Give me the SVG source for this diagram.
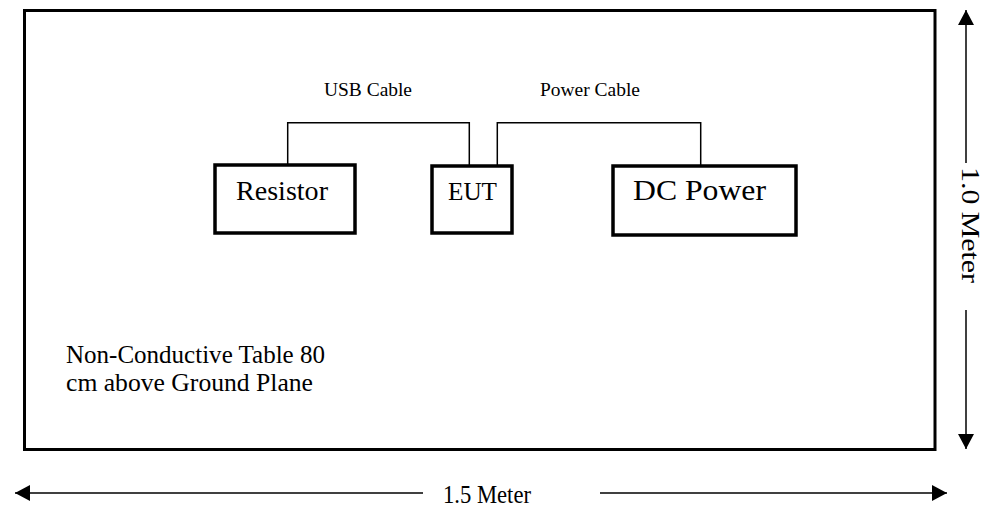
<svg xmlns="http://www.w3.org/2000/svg" width="987" height="515" viewBox="0 0 987 515">
<style>
text{font-family:"Liberation Serif","Times New Roman",serif;fill:#000}
.box{fill:#fff;stroke:#000;stroke-width:3.5}
.frame{fill:none;stroke:#000;stroke-width:3}
.wire{fill:none;stroke:#000;stroke-width:1.5}
.dim{stroke:#000;stroke-width:1.5}
</style>
<defs>
<marker id="ah" viewBox="0 0 15 16" refX="15" refY="8" markerWidth="15" markerHeight="16" markerUnits="userSpaceOnUse" orient="auto">
<path d="M0,0 L15,8 L0,16 Z" fill="#000"/>
</marker>
</defs>
<g id="table">
<rect class="frame" x="24.5" y="10.5" width="910.5" height="439"/>
<text x="66" y="363" font-size="25" textLength="259" lengthAdjust="spacingAndGlyphs">Non-Conductive Table 80</text>
<text x="66" y="391" font-size="25" textLength="247" lengthAdjust="spacingAndGlyphs">cm above Ground Plane</text>
</g>
<g id="resistor">
<rect class="box" x="215" y="165" width="140" height="68"/>
<text x="236" y="200" font-size="27" textLength="92" lengthAdjust="spacingAndGlyphs">Resistor</text>
</g>
<g id="eut">
<rect class="box" x="432" y="166" width="80" height="67"/>
<text x="448" y="200" font-size="26" textLength="49" lengthAdjust="spacingAndGlyphs">EUT</text>
</g>
<g id="dcpower">
<rect class="box" x="613" y="166" width="183" height="69"/>
<text x="633" y="200" font-size="29" textLength="133" lengthAdjust="spacingAndGlyphs">DC Power</text>
</g>
<g id="connectors">
<polyline class="wire" points="287.7,165 287.7,122.7 469.3,122.7 469.3,166"/>
<polyline class="wire" points="497.3,166 497.3,122.7 700.7,122.7 700.7,166"/>
<text x="324" y="96" font-size="19" textLength="88" lengthAdjust="spacingAndGlyphs">USB Cable</text>
<text x="540" y="96" font-size="19" textLength="100" lengthAdjust="spacingAndGlyphs">Power Cable</text>
</g>
<g id="dimensions">
<line class="dim" x1="966" y1="163" x2="966" y2="10" marker-end="url(#ah)"/>
<line class="dim" x1="966" y1="310" x2="966" y2="449" marker-end="url(#ah)"/>
<text transform="translate(962,167) rotate(90)" font-size="25" textLength="116" lengthAdjust="spacingAndGlyphs">1.0 Meter</text>
<line class="dim" x1="423" y1="493" x2="15" y2="493" marker-end="url(#ah)"/>
<line class="dim" x1="600" y1="493" x2="947" y2="493" marker-end="url(#ah)"/>
<text x="443" y="503" font-size="25" textLength="88" lengthAdjust="spacingAndGlyphs">1.5 Meter</text>
</g>
</svg>
